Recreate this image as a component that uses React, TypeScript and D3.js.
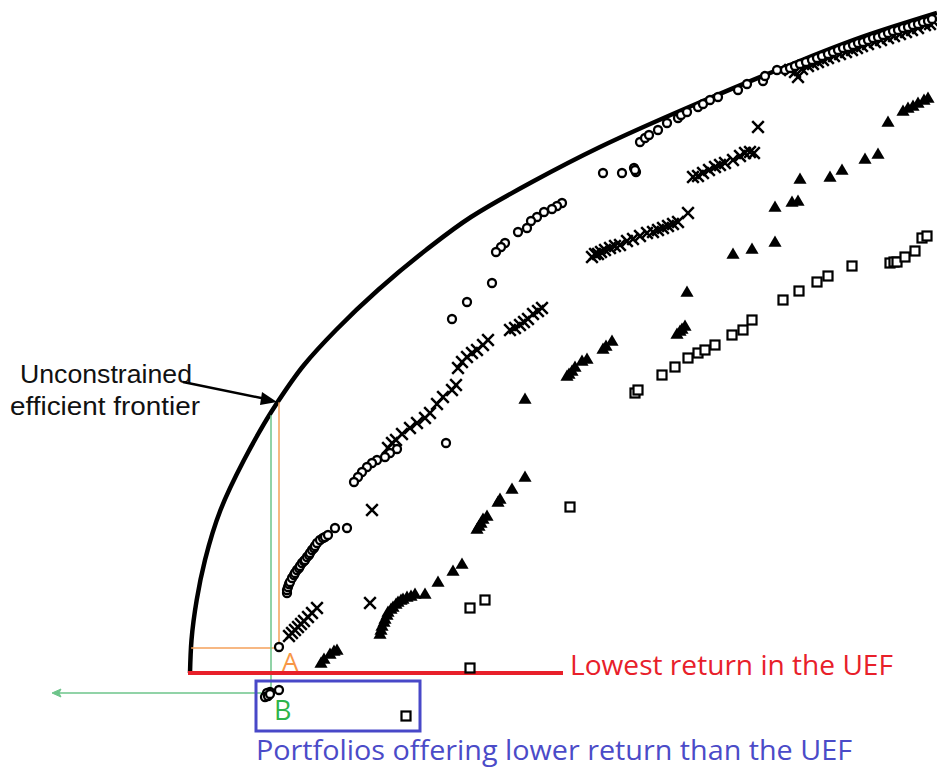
import React from "react";
import * as d3 from "d3";

// Values: risk (x) and return (y) in chart units.
const frontier: [number, number][] = [
  [190, 100], [191.5, 133], [196.7, 173], [205, 213], [220.5, 263], [244, 313], [277, 370],
  [304, 408], [336, 443], [378, 483], [426, 523], [471, 556], [532, 591], [600, 626],
  [696, 669], [785, 706], [868, 738], [937, 760],
];

const circlePts: [number, number][] = [
  [603, 600], [622, 600], [634, 605], [636, 601], [635, 603], [640, 631], [645, 635], [649, 638], [658, 643],
  [667, 650], [678, 655], [681, 658], [687, 661], [698, 666], [703, 669], [710, 673], [718, 676],
  [738, 683], [747, 689], [763, 692], [765, 697], [777, 703],
  [785, 703], [790, 705], [795, 707], [800, 709], [806, 711], [812, 713], [817, 715], [822, 717],
  [828, 719], [833, 721], [838, 723], [843, 725], [848, 726], [853, 728], [858, 730], [863, 731],
  [868, 733], [873, 735], [878, 736], [883, 738], [888, 740], [893, 742], [898, 743], [903, 745],
  [908, 746], [913, 748], [918, 749], [923, 751], [928, 752], [932, 754],
  [562, 570], [557, 567], [552, 564], [544, 561], [537, 556], [531, 552], [527, 545], [518, 541],
  [505, 530], [501, 526], [496, 521], [492, 490], [467, 471], [452, 454], [446, 330],
  [397, 324], [390, 320], [385, 316], [377, 313], [372, 310], [367, 306], [362, 301], [358, 296], [354, 291],
  [287, 180], [287, 183], [288, 186], [289, 189], [290, 191], [292, 195], [294, 198], [295, 200], [297, 203],
  [299, 205], [300, 207], [302, 210], [304, 212], [305, 213], [307, 216], [309, 218], [310, 220], [312, 223],
  [314, 225], [315, 227], [317, 230], [320, 233], [323, 235], [325, 236],
  [328, 238], [335, 245], [347, 245],
  [279, 126],
  [279, 83], [267, 78], [269, 80], [266, 77], [268, 79], [270, 81], [267, 80], [265, 76], [268, 77], [270, 79],
];

const crossPts: [number, number][] = [
  [289, 137], [292, 140], [295, 143], [298, 146], [301, 149], [304, 152], [308, 156], [312, 160], [317, 165],
  [372, 263], [370, 170],
  [388, 325], [392, 330], [396, 333], [402, 339], [410, 345], [417, 350], [425, 355], [430, 360],
  [437, 369], [443, 376], [452, 383], [456, 388], [458, 405], [462, 411], [467, 416], [472, 420],
  [477, 423], [483, 428], [488, 433], [510, 443], [515, 445], [520, 448], [524, 451], [528, 454],
  [533, 459], [538, 462], [542, 465],
  [592, 516], [595, 519], [598, 519], [601, 521], [605, 523], [610, 525], [615, 527], [620, 528],
  [627, 532], [633, 534], [640, 537], [647, 540], [653, 541], [658, 543], [663, 545], [668, 547],
  [673, 549], [678, 551], [688, 560],
  [693, 596], [698, 597], [703, 600], [709, 603], [715, 606], [720, 608], [725, 610], [733, 613],
  [740, 617], [745, 620], [750, 621], [754, 620], [758, 646], [798, 696],
  [790, 703], [795, 701], [802, 704], [808, 707], [813, 709], [818, 711], [823, 713], [828, 715],
  [834, 717], [840, 719], [846, 721], [852, 723], [857, 725], [862, 727], [868, 729], [875, 731],
  [881, 733], [888, 735], [894, 737], [900, 739], [906, 741], [912, 743], [918, 745], [925, 748],
  [930, 749], [934, 751],
];

const trianglePts: [number, number][] = [
  [321, 109], [324, 113], [330, 118], [334, 121], [337, 122],
  [380, 138], [381, 142], [382, 146], [384, 150], [385, 153], [387, 157], [388, 160], [391, 163],
  [393, 165], [396, 168], [398, 170], [401, 172], [403, 173], [407, 175], [411, 176], [415, 178],
  [425, 178], [438, 190], [453, 201], [462, 208],
  [477, 243], [479, 246], [481, 249], [483, 253], [487, 256], [498, 270], [500, 273], [512, 283], [525, 295],
  [525, 373],
  [567, 396], [569, 398], [572, 401], [575, 405], [582, 411], [587, 413], [603, 423], [606, 426], [612, 431],
  [677, 438], [680, 441], [682, 443], [685, 446], [687, 480],
  [733, 518], [752, 523], [775, 530], [775, 565], [792, 570], [798, 571],
  [800, 593], [830, 595], [842, 602], [865, 613], [878, 618], [888, 650], [903, 661], [908, 664],
  [913, 666], [918, 669], [924, 672], [928, 674],
];

const squarePts: [number, number][] = [
  [406, 57], [470, 105], [470, 165], [485, 173], [570, 266],
  [635, 380], [638, 383], [662, 398], [675, 406], [688, 415], [698, 420], [705, 423], [715, 428],
  [732, 438], [743, 443], [752, 453], [783, 473], [799, 482], [817, 491], [828, 497], [852, 507],
  [890, 510], [894, 511], [897, 511], [905, 516], [915, 522], [922, 535], [927, 537],
];

// Annotation anchors (chart units)
const pointA: [number, number] = [279, 126];
const pointB: [number, number] = [271, 80];
const lowestReturn = 100;
const lowestLineX: [number, number] = [188, 563];
const greenLeftX = 52;
const boxX: [number, number] = [256, 420];
const boxY: [number, number] = [92, 42];

const W = 937;
const H = 773;

export default function App() {
  const x = d3.scaleLinear().domain([0, 937]).range([0, W]);
  const y = d3.scaleLinear().domain([0, 773]).range([H, 0]);

  const ordered = [...frontier].sort((a, b) => b[1] - a[1]);
  const line = d3
    .line<[number, number]>()
    .x((d) => x(d[0]))
    .y((d) => y(d[1]))
    .curve(d3.curveMonotoneY);

  const fpath = line(ordered) || "";

  const frontierRetAt = (r: number) => {
    for (let i = 0; i < frontier.length - 1; i++) {
      const [x0, y0] = frontier[i];
      const [x1, y1] = frontier[i + 1];
      if (r >= x0 && r <= x1) return y0 + ((r - x0) / (x1 - x0)) * (y1 - y0);
    }
    return frontier[frontier.length - 1][1];
  };
  const frontierRiskAt = (m: number) => {
    for (let i = 0; i < frontier.length - 1; i++) {
      const [x0, y0] = frontier[i];
      const [x1, y1] = frontier[i + 1];
      if (m >= y0 && m <= y1) return x0 + ((m - y0) / (y1 - y0)) * (x1 - x0);
    }
    return frontier[0][0];
  };

  const tri = d3.symbol(d3.symbolTriangle, 75)() || "";
  const cs = 5.8;

  const orange = "#F4A15A";
  const green = "#6DC48A";

  return (
    <svg
      width={W}
      height={H}
      style={{ position: "absolute", left: 0, top: 0, background: "#fff" }}
      fontFamily="'Liberation Sans', Arial, sans-serif"
    >
      <rect width={W} height={H} fill="#fff" />
      <path d={fpath} fill="none" stroke="#000" strokeWidth={4.5} />

      <line
        x1={x(pointA[0])}
        x2={x(pointA[0])}
        y1={y(frontierRetAt(pointA[0]) - 2)}
        y2={y(pointA[1])}
        stroke={orange}
        strokeWidth={1.5}
      />
      <line
        x1={x(frontierRiskAt(pointA[1]))}
        x2={x(pointA[0])}
        y1={y(pointA[1]) + 1}
        y2={y(pointA[1]) + 1}
        stroke={orange}
        strokeWidth={1.5}
      />
      <line
        x1={x(pointB[0])}
        x2={x(pointB[0])}
        y1={y(frontierRetAt(pointB[0]) - 2)}
        y2={y(pointB[1])}
        stroke={green}
        strokeWidth={1.5}
      />
      <line
        x1={x(greenLeftX) + 6}
        x2={x(pointB[0])}
        y1={y(pointB[1])}
        y2={y(pointB[1])}
        stroke={green}
        strokeWidth={1.5}
      />
      <path
        d={`M${x(greenLeftX)},${y(pointB[1])} l9,-4 l-2,4 l2,4 z`}
        fill={green}
        stroke={green}
        strokeWidth={1}
      />

      <line
        x1={x(lowestLineX[0])}
        x2={x(lowestLineX[1])}
        y1={y(lowestReturn)}
        y2={y(lowestReturn)}
        stroke="#E8202A"
        strokeWidth={4}
      />

      <rect
        x={x(boxX[0])}
        y={y(boxY[0])}
        width={x(boxX[1]) - x(boxX[0])}
        height={y(boxY[1]) - y(boxY[0])}
        fill="none"
        stroke="#4848C8"
        strokeWidth={3}
      />

      <g>
        {squarePts.map((d, i) => (
          <rect
            key={"s" + i}
            x={x(d[0]) - 4.5}
            y={y(d[1]) - 4.5}
            width={9}
            height={9}
            fill="#fff"
            stroke="#000"
            strokeWidth={2.2}
          />
        ))}
        {trianglePts.map((d, i) => (
          <path key={"t" + i} d={tri} transform={`translate(${x(d[0])},${y(d[1])})`} fill="#000" />
        ))}
        {crossPts.map((d, i) => (
          <path
            key={"c" + i}
            d={`M${x(d[0]) - cs},${y(d[1]) - cs}L${x(d[0]) + cs},${y(d[1]) + cs}M${x(d[0]) - cs},${y(d[1]) + cs}L${x(d[0]) + cs},${y(d[1]) - cs}`}
            stroke="#000"
            strokeWidth={2.5}
            fill="none"
          />
        ))}
        {circlePts.map((d, i) => (
          <circle
            key={"o" + i}
            cx={x(d[0])}
            cy={y(d[1])}
            r={4}
            fill="#fff"
            stroke="#000"
            strokeWidth={2.3}
          />
        ))}
      </g>

      <text x={20} y={383} fontSize={25} textLength={172} lengthAdjust="spacingAndGlyphs" fill="#111">
        Unconstrained
      </text>
      <text x={10} y={415} fontSize={25} textLength={190} lengthAdjust="spacingAndGlyphs" fill="#111">
        efficient frontier
      </text>
      <line x1={183} y1={382} x2={266} y2={399} stroke="#000" strokeWidth={2.5} />
      <path d="M277,402 L262,392 L260,405 Z" fill="#000" />

      <text x={282} y={671} fontSize={26} fill="#F79646" fontFamily="'Open Sans', sans-serif">
        A
      </text>
      <text x={274} y={720} fontSize={27} fill="#2DB34A" fontFamily="'Open Sans', sans-serif">
        B
      </text>
      <text
        x={570}
        y={675}
        fontSize={27}
        fill="#E8202A"
        fontFamily="'Open Sans', sans-serif"
        textLength={323}
        lengthAdjust="spacingAndGlyphs"
      >
        Lowest return in the UEF
      </text>
      <text
        x={256}
        y={760}
        fontSize={27}
        fill="#4B4BC8"
        fontFamily="'Open Sans', sans-serif"
        textLength={596}
        lengthAdjust="spacingAndGlyphs"
      >
        Portfolios offering lower return than the UEF
      </text>
    </svg>
  );
}
